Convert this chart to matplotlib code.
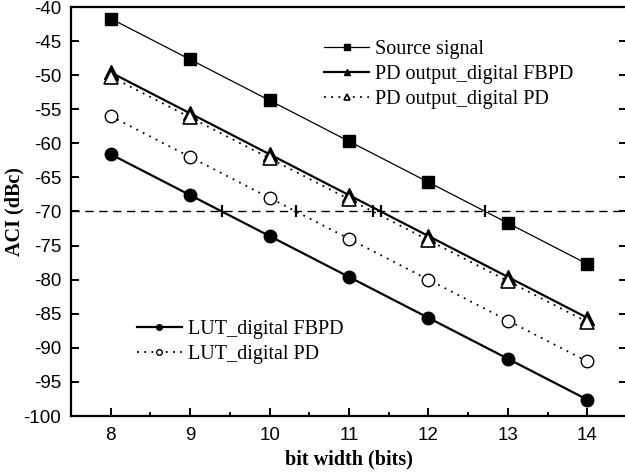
import numpy as np
import matplotlib
matplotlib.use("Agg")
import matplotlib.pyplot as plt
from matplotlib.ticker import MultipleLocator

plt.rcParams["axes.unicode_minus"] = False

# Data: ACI versus DAC bit width
bits = [8, 9, 10, 11, 12, 13, 14]
source_signal = [-41.7, -47.7, -53.7, -59.7, -65.7, -71.7, -77.7]
pd_out_fbpd = [-49.6, -55.6, -61.6, -67.6, -73.6, -79.6, -85.6]
pd_out_pd = [-50.2, -56.2, -62.2, -68.2, -74.2, -80.2, -86.2]
lut_fbpd = [-61.6, -67.6, -73.6, -79.6, -85.6, -91.6, -97.6]
lut_pd = [-56.0, -62.0, -68.0, -74.0, -80.0, -86.0, -92.0]
spec_limit = -70

serif = ["Liberation Serif", "DejaVu Serif"]
sans = ["Liberation Sans", "DejaVu Sans"]

fig = plt.figure(figsize=(6.25, 4.73), dpi=100)
ax = fig.add_axes([71 / 625, 1 - 416 / 473, (627 - 71) / 625, (416 - 7) / 473])

ms = 8.6
h_src, = ax.plot(bits, source_signal, color="black", lw=0.9, marker="s", ms=ms,
                 markerfacecolor="black", label="Source signal")
h_pdf, = ax.plot(bits, pd_out_fbpd, color="black", lw=1.6, marker="^", ms=ms + 1.6,
                 markerfacecolor="black", label="PD output_digital FBPD")
h_pdp, = ax.plot(bits, pd_out_pd, color="black", lw=1.3, ls=(0, (1, 3)), marker="^",
                 ms=ms + 1.6, markerfacecolor="white", markeredgewidth=1.2,
                 label="PD output_digital PD")
h_lf, = ax.plot(bits, lut_fbpd, color="black", lw=1.6, marker="o", ms=ms + 0.4,
                markerfacecolor="black", label="LUT_digital FBPD")
h_lp, = ax.plot(bits, lut_pd, color="black", lw=1.3, ls=(0, (1, 3)), marker="o",
                ms=ms + 0.4, markerfacecolor="white", markeredgewidth=1.0,
                label="LUT_digital PD")

# -70 dBc requirement and where each curve crosses it
ax.axhline(spec_limit, color="black", lw=1.0, ls=(0, (6, 4)), zorder=1)
for series in (source_signal, pd_out_fbpd, pd_out_pd, lut_fbpd, lut_pd):
    xc = np.interp(-spec_limit, -np.asarray(series), bits)
    ax.plot([xc], [spec_limit], marker="|", color="black", ms=8, mew=1.6)

ax.set_xlim(7.5, 14.5)
ax.set_ylim(-100, -40)
ax.xaxis.set_major_locator(MultipleLocator(1))
ax.xaxis.set_minor_locator(MultipleLocator(0.5))
ax.yaxis.set_major_locator(MultipleLocator(5))
ax.tick_params(which="both", direction="in", top=False, right=True, width=1.4)
ax.tick_params(which="major", length=6)
ax.tick_params(which="minor", length=3)
ax.tick_params(axis="both", labelsize=13.5)
ax.tick_params(axis="y", pad=7)
ax.tick_params(axis="x", pad=8)
for lbl in ax.get_xticklabels() + ax.get_yticklabels():
    lbl.set_family(sans)
for sp in ax.spines.values():
    sp.set_linewidth(1.6)

ax.set_xlabel("bit width (bits)", family=serif, fontweight="bold", fontsize=14.5, labelpad=4)
ax.set_ylabel("ACI (dBc)", family=serif, fontweight="bold", fontsize=14.5)
ax.yaxis.set_label_coords(-0.083, 0.5)

leg_kw = dict(frameon=False, prop={"family": serif, "size": 14.5}, markerscale=0.45,
              handlelength=2.25, handletextpad=0.3, labelspacing=0.3,
              borderaxespad=0, borderpad=0)
leg1 = ax.legend(handles=[h_src, h_pdf, h_pdp], loc="upper left",
                 bbox_to_anchor=(0.455, 0.92), **leg_kw)
ax.add_artist(leg1)
ax.legend(handles=[h_lf, h_lp], loc="upper left", bbox_to_anchor=(0.118, 0.235), **leg_kw)

fig.savefig("out.png", dpi=100)
